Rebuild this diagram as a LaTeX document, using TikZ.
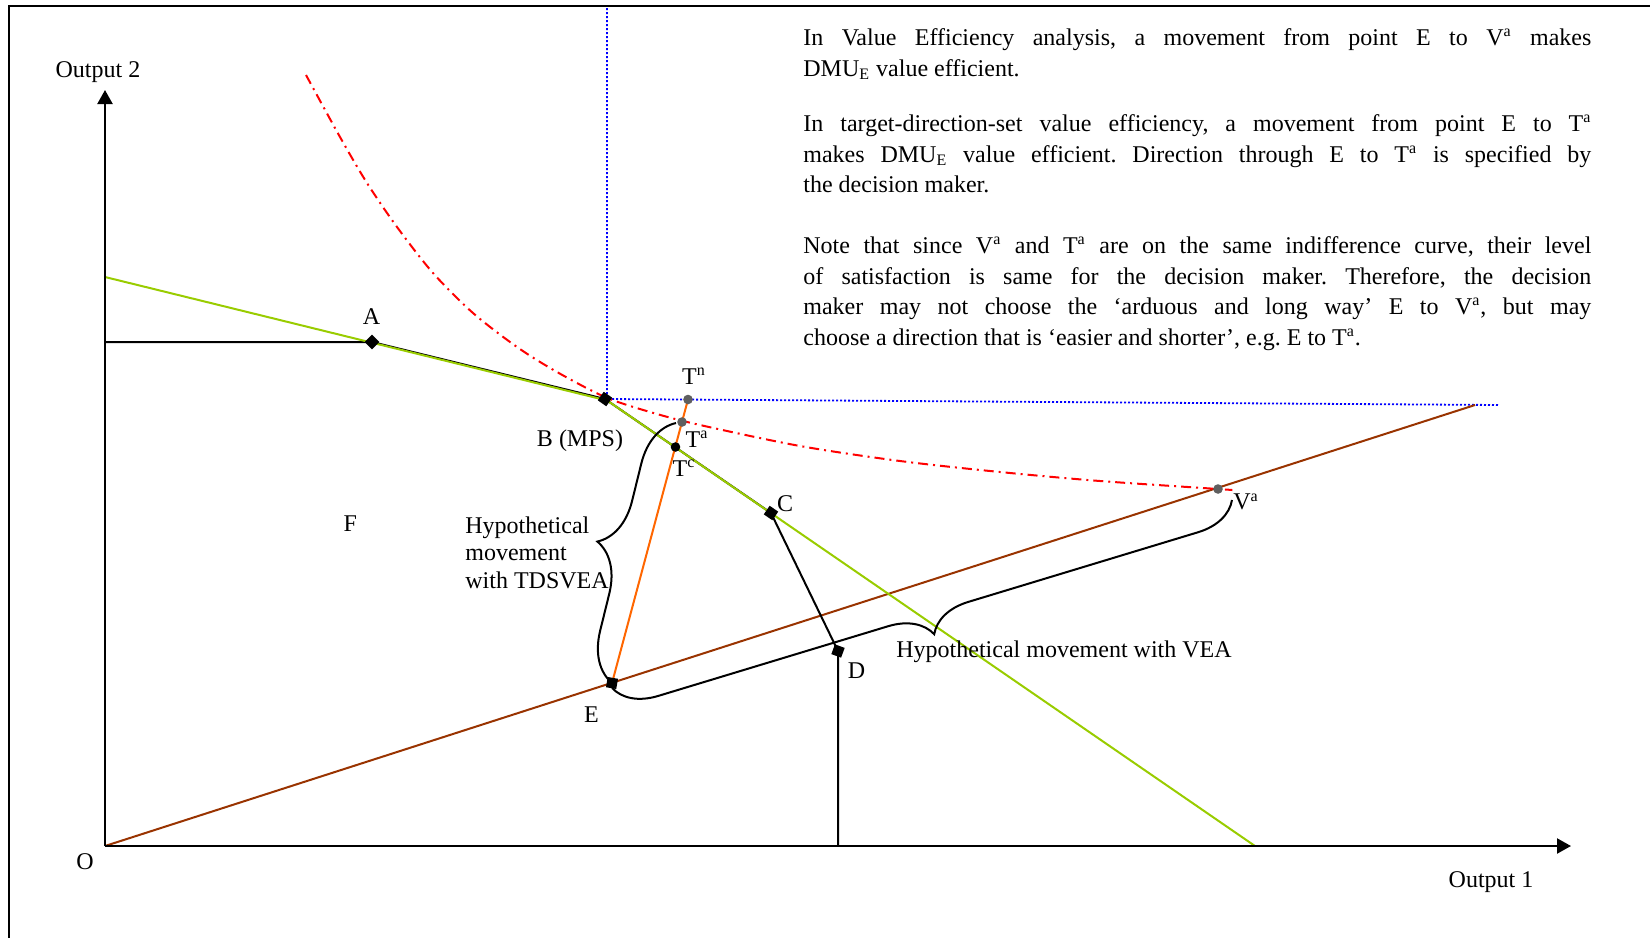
\documentclass[tikz,border=0pt]{standalone}
\usepackage{fontspec}
\setmainfont{Liberation Serif}
\usetikzlibrary{arrows.meta,decorations.pathreplacing}
\definecolor{ygreen}{RGB}{153,204,0}
\definecolor{brn}{RGB}{153,51,0}
\definecolor{orng}{RGB}{255,102,0}
\definecolor{gry}{RGB}{95,95,95}
\begin{document}
\begin{tikzpicture}[x=0.5pt,y=-0.5pt,
  lbl/.style={inner sep=0pt, font=\fontsize{12}{14}\selectfont},
  sqmark/.style={fill=black, inner sep=0pt, minimum size=5.2pt, rectangle},
  dotmark/.style={circle, inner sep=0pt, minimum size=4.8pt},
  axisline/.style={line width=1.1pt, -{Triangle[width=7.5pt,length=7pt]}},
  front/.style={line width=1pt, black},
  facet/.style={line width=1pt, ygreen},
  ray/.style={line width=1pt, brn},
  dirline/.style={line width=1pt, orng},
  guide/.style={line width=0.9pt, blue, dash pattern=on 1pt off 1pt},
  indiff/.style={line width=1pt, red, dash pattern=on 5pt off 2.5pt on 1pt off 2.5pt},
  bracebig/.style={decorate, line width=1pt},
  para/.style={inner sep=0pt, text width=394pt, align=justify, anchor=base west, font=\fontsize{12}{15.25}\selectfont}
]
\useasboundingbox (0,0) rectangle (1650,938);
% frame
\coordinate (F1) at (9,6);
\coordinate (F2) at (1650,6);
\coordinate (F3) at (9,938);
\draw[line width=1.1pt] (F2) -- (F1) -- (F3);
% points
\coordinate (O) at (105,846);
\coordinate (Ytop) at (105,90);
\coordinate (Xend) at (1571,846);
\coordinate (A) at (372,342);
\coordinate (B) at (605,399);
\coordinate (C) at (771,513);
\coordinate (D) at (838,651);
\coordinate (E) at (612,683);
\coordinate (Tc) at (675.5,447);
\coordinate (Ta) at (682,422);
\coordinate (Tn) at (688,399.5);
\coordinate (Va) at (1218,489);
\coordinate (G1) at (105,276);
\coordinate (G2) at (1255,846);
\coordinate (Rend) at (1475,405);
\coordinate (Ax) at (105,342);
\coordinate (Dx) at (838,846);
\coordinate (Vtop) at (607,8);
\coordinate (Bv) at (607,399);
\coordinate (Hend) at (1498,405);
\coordinate (TaL) at (676,423);
\coordinate (VaR) at (1232,500);
\coordinate (Eb) at (612,688);
% guides
\draw[guide] (Vtop) -- (Bv) -- (Hend);
% ray and direction
\draw[ray] (O) -- (Rend);
\draw[dirline] (E) -- (Tn);
% frontier
\draw[front] (Ax) -- (A) -- (B) -- (C) -- (D) -- (Dx);
\draw[facet] ([yshift=-0.5pt]G1) -- ([yshift=-0.5pt]B);
\draw[facet] (B) -- (G2);
% indifference curve
\draw[indiff] plot[smooth] coordinates {(306,75) (340,137) (367,183) (397,227) (433,273) (473,313) (517,347) (557,372) (605,397) (650,412) (700,425) (800,446) (900,461) (1000,472) (1100,481) (1218,489) (1232,490)};
% axes
\draw[axisline] (O) -- (Ytop);
\draw[axisline] (O) -- (Xend);
% braces
\draw[bracebig, decoration={brace,amplitude=24pt}] (E) -- (TaL);
\draw[bracebig, decoration={brace,amplitude=21pt}] (VaR) -- (Eb);
% markers
\node[sqmark, rotate=45] (mA) at (A) {};
\node[sqmark, rotate=-35] (mB) at (B) {};
\node[sqmark, rotate=-34] (mC) at (C) {};
\node[sqmark, rotate=-20] (mD) at (D) {};
\node[sqmark, rotate=-10] (mE) at (E) {};
\node[dotmark, fill=black] (mTc) at (Tc) {};
\node[dotmark, fill=gry] (mTa) at (Ta) {};
\node[dotmark, fill=gry] (mTn) at (Tn) {};
\node[dotmark, fill=gry] (mVa) at (Va) {};
% labels
\node[lbl] (lY) at (98,72) {Output 2};
\node[lbl] (lX) at (1491,882) {Output 1};
\node[lbl] (lO) at (85,862) {O};
\node[lbl] (lA) at (371.5,317) {A};
\node[lbl] (lTn) at (694,376) {T\textsuperscript{n}};
\node[lbl] (lTa) at (697,439) {T\textsuperscript{a}};
\node[lbl] (lTc) at (684,468) {T\textsuperscript{c}};
\node[lbl] (lB) at (580,441) {B (MPS)};
\node[lbl] (lC) at (785,504) {C};
\node[lbl] (lF) at (350.4,524) {F};
\node[lbl] (lD) at (856.6,671) {D};
\node[lbl] (lE) at (591.4,714.5) {E};
\node[lbl] (lVa) at (1246,502) {V\textsuperscript{a}};
\node[lbl] (lVEA) at (1064,651.4) {Hypothetical movement with VEA};
\node[lbl, align=left, anchor=west, font=\fontsize{12}{13.75}\selectfont] (lTD) at (465,552.5) {Hypothetical\\movement\\with TDSVEA};
% text block
\node[para] (p1) at (803,45.5) {\frenchspacing\hyphenpenalty=10000\tolerance=10000 In Value Efficiency analysis, a movement from point E to V\textsuperscript{a} makes\linebreak DMU\textsubscript{E} value efficient.};
\node[para] (p2) at (803,131.5) {\frenchspacing\hyphenpenalty=10000\tolerance=10000 In target-direction-set value efficiency, a movement from point E to T\textsuperscript{a}\linebreak makes DMU\textsubscript{E} value efficient. Direction through E to T\textsuperscript{a} is specified by\linebreak the decision maker.};
\node[para] (p3) at (803,253.5) {\frenchspacing\hyphenpenalty=10000\tolerance=10000 Note that since V\textsuperscript{a} and T\textsuperscript{a} are on the same indifference curve, their level\linebreak of satisfaction is same for the decision maker. Therefore, the decision\linebreak maker may not choose the ‘arduous and long way’ E to V\textsuperscript{a}, but may\linebreak choose a direction that is ‘easier and shorter’, e.g. E to T\textsuperscript{a}.};
\end{tikzpicture}
\end{document}
